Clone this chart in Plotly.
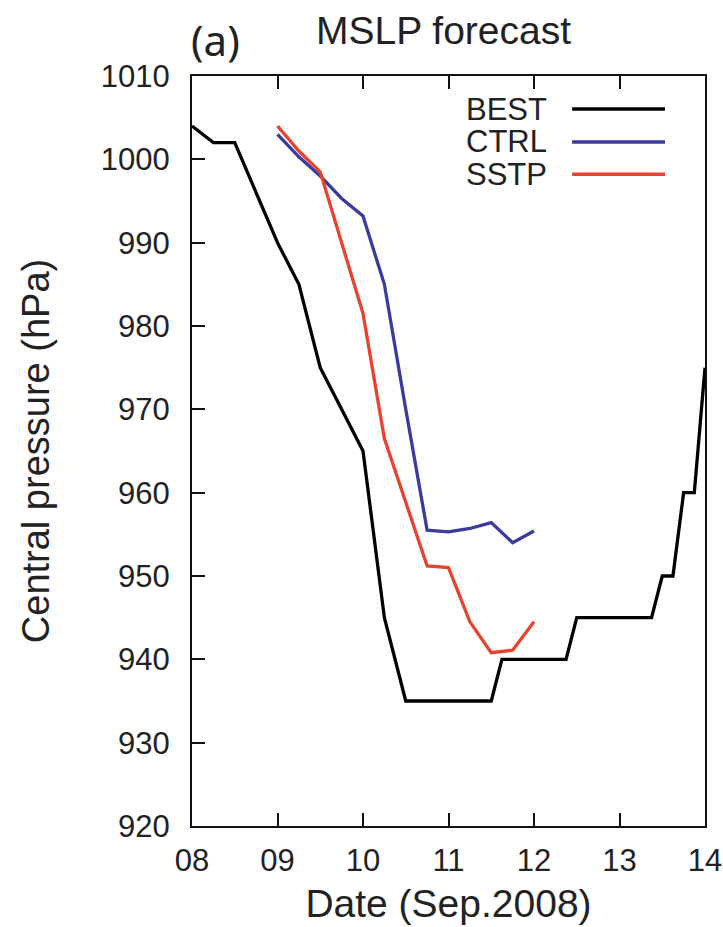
import plotly.graph_objects as go

# Time in days of September 2008 (00 UTC = integer)
best_day = [8.0, 8.25, 8.5, 8.75, 9.0, 9.25, 9.5, 9.75, 10.0, 10.25, 10.5, 11.5,
            11.625, 12.375, 12.5, 13.375, 13.5, 13.625, 13.75, 13.875, 14.0]
best_p = [1004, 1002, 1002, 996, 990, 985, 975, 970, 965, 945, 935, 935,
          940, 940, 945, 945, 950, 950, 960, 960, 975]

fcst_day = [9.0, 9.25, 9.5, 9.75, 10.0, 10.25, 10.5, 10.75, 11.0, 11.25, 11.5, 11.75, 12.0]
ctrl_p = [1003, 1000.3, 998, 995.3, 993.2, 985, 970, 955.5, 955.3, 955.7, 956.4, 954.0, 955.4]
sstp_p = [1004, 1001, 998.5, 990, 981.5, 966.5, 959, 951.2, 951, 944.5, 940.8, 941.1, 944.5]

x_ticks = [8, 9, 10, 11, 12, 13, 14]
x_ticktext = ["08", "09", "10", "11", "12", "13", "14"]
y_ticks = list(range(920, 1011, 10))

series = [
    ("BEST", best_day, best_p, "#000000"),
    ("CTRL", fcst_day, ctrl_p, "#3b3b9e"),
    ("SSTP", fcst_day, sstp_p, "#e8432d"),
]

FONT = "Liberation Sans, Arial, sans-serif"

fig = go.Figure()
for name, xs, ys, col in series:
    fig.add_trace(go.Scatter(x=xs, y=ys, mode="lines", name=name,
                             line=dict(color=col, width=3.3), showlegend=False))

# Key: label on the left, line sample on the right
key_y = [0.956, 0.912, 0.869]
for (name, _, _, col), ky in zip(series, key_y):
    fig.add_annotation(x=0.696, y=ky, xref="paper", yref="paper", text=name,
                       showarrow=False, xanchor="right", yanchor="middle",
                       font=dict(family=FONT, size=31, color="#222"))
    fig.add_shape(type="line", xref="paper", yref="paper",
                  x0=0.741, x1=0.922, y0=ky, y1=ky,
                  line=dict(color=col, width=3.3))

fig.add_annotation(x=-0.006, y=1.048, xref="paper", yref="paper", text="(a)",
                   showarrow=False, xanchor="left", yanchor="middle",
                   font=dict(family="Noto Sans, sans-serif", size=42, color="#222"))
fig.add_annotation(x=0.49, y=1.061, xref="paper", yref="paper", text="MSLP forecast",
                   showarrow=False, xanchor="center", yanchor="middle",
                   font=dict(family=FONT, size=39, color="#222"))

fig.update_layout(
    width=723, height=927,
    margin=dict(l=191.5, r=18, t=75.6, b=101),
    paper_bgcolor="white", plot_bgcolor="white",
    font=dict(family=FONT, size=31, color="#222"),
)
fig.update_xaxes(
    range=[8, 14], tickvals=x_ticks, ticktext=x_ticktext,
    ticks="inside", ticklen=13, tickwidth=2, tickcolor="#111",
    showline=True, linewidth=2, linecolor="#111", mirror="ticks",
    showgrid=False, zeroline=False, ticklabelstandoff=6, automargin=False,
    title=dict(text="Date (Sep.2008)", font=dict(size=39), standoff=12),
)
fig.update_yaxes(
    range=[920, 1010], tickvals=y_ticks,
    ticks="inside", ticklen=13, tickwidth=2, tickcolor="#111",
    showline=True, linewidth=2, linecolor="#111", mirror=True,
    showgrid=False, zeroline=False, ticklabelstandoff=14, automargin=False,
    title=dict(text="Central pressure (hPa)", font=dict(size=38), standoff=40),
)

fig.write_html("out.html")
